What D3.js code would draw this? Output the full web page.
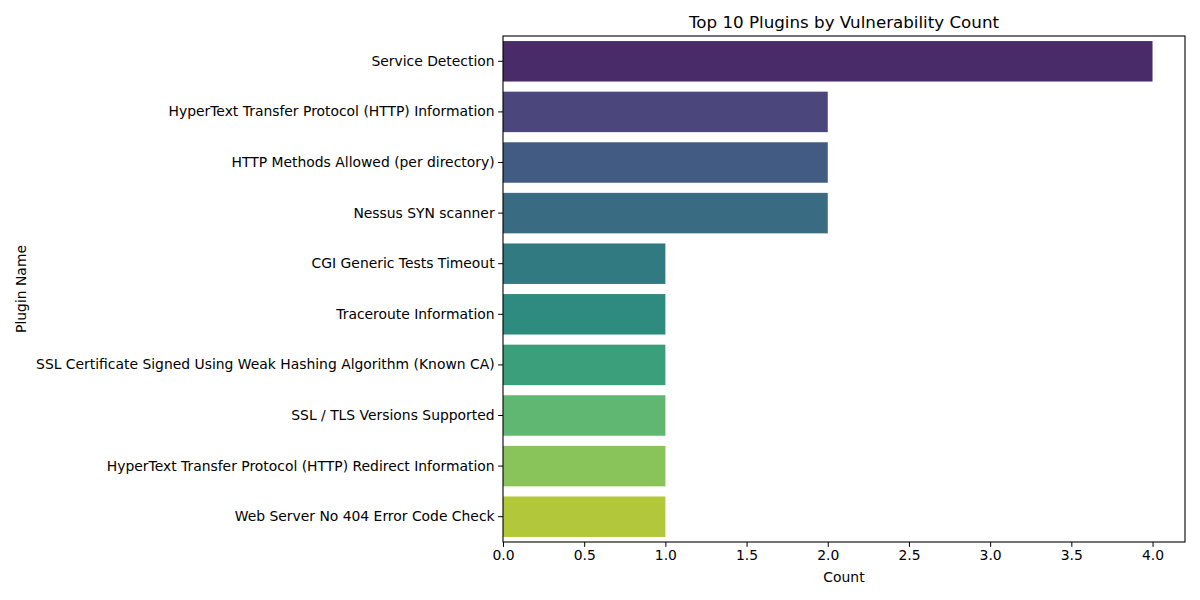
<!DOCTYPE html>
<html>
<head>
<meta charset="utf-8">
<script src="https://cdn.jsdelivr.net/npm/d3@7"></script>
<style>
  body { margin: 0; background: #fff; }
  svg { font-family: "DejaVu Sans", sans-serif; }
</style>
</head>
<body>
<svg width="1200" height="600"></svg>
<script>
// chart data
var plugins = [
  "Service Detection",
  "HyperText Transfer Protocol (HTTP) Information",
  "HTTP Methods Allowed (per directory)",
  "Nessus SYN scanner",
  "CGI Generic Tests Timeout",
  "Traceroute Information",
  "SSL Certificate Signed Using Weak Hashing Algorithm (Known CA)",
  "SSL / TLS Versions Supported",
  "HyperText Transfer Protocol (HTTP) Redirect Information",
  "Web Server No 404 Error Code Check"
];
var counts = [4, 2, 2, 2, 1, 1, 1, 1, 1, 1];
var xTicks = [0, 0.5, 1, 1.5, 2, 2.5, 3, 3.5, 4];

var svg = d3.select("svg");
var margin = { left: 503, right: 15, top: 36, bottom: 58 };
var width = 1200 - margin.left - margin.right,
  height = 600 - margin.top - margin.bottom;

var g = svg.append("g").attr("transform", "translate(" + margin.left + "," + margin.top + ")");

// scales
var x = d3.scaleLinear().domain([0, d3.max(counts) * 1.05]).range([0, width]);
var y = d3.scaleBand().domain(plugins).range([0, height]).paddingInner(0.2).paddingOuter(0.1);

// viridis palette, desaturated like seaborn does for bars
function barColor(i) {
  var c = d3.hsl(d3.interpolateViridis((i + 1) / (plugins.length + 1)));
  c.s = c.s * 0.75;
  return c.formatHex();
}

// bars
g.selectAll("rect.bar")
  .data(plugins)
  .enter()
  .append("rect")
  .attr("class", "bar")
  .attr("x", x(0))
  .attr("y", function(d) { return y(d); })
  .attr("width", function(d, i) { return x(counts[i]) - x(0); })
  .attr("height", y.bandwidth())
  .attr("fill", function(d, i) { return barColor(i); });

// axes
var xAxis = g.append("g")
  .attr("transform", "translate(0," + height + ")")
  .call(d3.axisBottom(x).tickValues(xTicks).tickFormat(d3.format(".1f")).tickSize(4.9).tickPadding(3.5));

var yAxis = g.append("g")
  .call(d3.axisLeft(y).tickSize(4.9).tickPadding(3.5));

[xAxis, yAxis].forEach(function(a) {
  a.selectAll("text").style("font-size", "13.9px").attr("fill", "#000").style("font-family", "DejaVu Sans");
  a.selectAll("line").attr("stroke", "#000").attr("stroke-width", 1);
  a.select(".domain").remove();
});

// frame
g.append("rect")
  .attr("width", width)
  .attr("height", height)
  .attr("fill", "none")
  .attr("stroke", "#000")
  .attr("stroke-width", 1.1);

// title and labels
svg.append("text")
  .attr("x", margin.left + width / 2)
  .attr("y", 28)
  .attr("text-anchor", "middle")
  .style("font-size", "16.7px")
  .text("Top 10 Plugins by Vulnerability Count");

svg.append("text")
  .attr("x", margin.left + width / 2)
  .attr("y", 582)
  .attr("text-anchor", "middle")
  .style("font-size", "13.9px")
  .text("Count");

svg.append("text")
  .attr("transform", "translate(26," + (margin.top + height / 2) + ") rotate(-90)")
  .attr("text-anchor", "middle")
  .style("font-size", "13.9px")
  .text("Plugin Name");
</script>
</body>
</html>
